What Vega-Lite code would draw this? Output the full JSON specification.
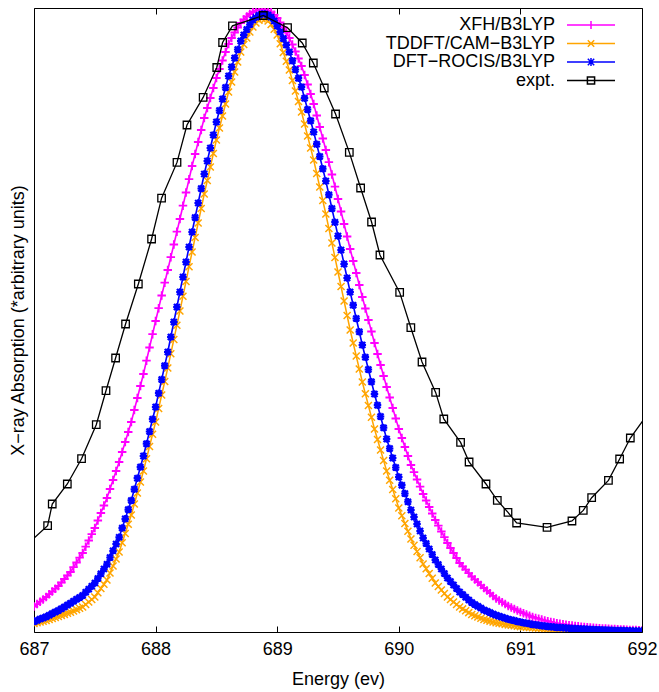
{
"$schema":"https://vega.github.io/schema/vega-lite/v6.json",
"width":608,"height":624,
"autosize":{"type":"none"},
"padding":{"left":34,"top":8,"right":17,"bottom":60},
"background":"white",
"config":{"view":{"stroke":"black","strokeWidth":1},"font":"Liberation Sans","axis":{"grid":false}},
"datasets":{
"xfh":[{"x":687,"y":0.255},{"x":687.025,"y":0.279},{"x":687.05,"y":0.303},{"x":687.075,"y":0.326},{"x":687.1,"y":0.35},{"x":687.125,"y":0.378},{"x":687.15,"y":0.405},{"x":687.175,"y":0.433},{"x":687.2,"y":0.46},{"x":687.225,"y":0.495},{"x":687.25,"y":0.53},{"x":687.275,"y":0.565},{"x":687.3,"y":0.6},{"x":687.325,"y":0.648},{"x":687.35,"y":0.695},{"x":687.375,"y":0.743},{"x":687.4,"y":0.79},{"x":687.425,"y":0.853},{"x":687.45,"y":0.915},{"x":687.475,"y":0.978},{"x":687.5,"y":1.04},{"x":687.525,"y":1.115},{"x":687.55,"y":1.19},{"x":687.575,"y":1.265},{"x":687.6,"y":1.34},{"x":687.625,"y":1.43},{"x":687.65,"y":1.52},{"x":687.675,"y":1.61},{"x":687.7,"y":1.7},{"x":687.725,"y":1.8},{"x":687.75,"y":1.9},{"x":687.775,"y":2.0},{"x":687.8,"y":2.1},{"x":687.825,"y":2.22},{"x":687.85,"y":2.34},{"x":687.875,"y":2.46},{"x":687.9,"y":2.58},{"x":687.925,"y":2.713},{"x":687.95,"y":2.845},{"x":687.975,"y":2.978},{"x":688,"y":3.11},{"x":688.025,"y":3.238},{"x":688.05,"y":3.365},{"x":688.075,"y":3.493},{"x":688.1,"y":3.62},{"x":688.125,"y":3.748},{"x":688.15,"y":3.875},{"x":688.175,"y":4.003},{"x":688.2,"y":4.13},{"x":688.225,"y":4.263},{"x":688.25,"y":4.395},{"x":688.275,"y":4.528},{"x":688.3,"y":4.66},{"x":688.325,"y":4.78},{"x":688.35,"y":4.9},{"x":688.375,"y":5.02},{"x":688.4,"y":5.14},{"x":688.425,"y":5.24},{"x":688.45,"y":5.34},{"x":688.475,"y":5.44},{"x":688.5,"y":5.54},{"x":688.525,"y":5.63},{"x":688.55,"y":5.715},{"x":688.575,"y":5.8},{"x":688.6,"y":5.88},{"x":688.625,"y":5.94},{"x":688.65,"y":5.995},{"x":688.675,"y":6.045},{"x":688.7,"y":6.09},{"x":688.725,"y":6.125},{"x":688.75,"y":6.155},{"x":688.775,"y":6.18},{"x":688.8,"y":6.2},{"x":688.825,"y":6.213},{"x":688.85,"y":6.222},{"x":688.875,"y":6.225},{"x":688.9,"y":6.222},{"x":688.925,"y":6.213},{"x":688.95,"y":6.198},{"x":688.975,"y":6.172},{"x":689,"y":6.14},{"x":689.025,"y":6.095},{"x":689.05,"y":6.045},{"x":689.075,"y":5.995},{"x":689.1,"y":5.94},{"x":689.125,"y":5.875},{"x":689.15,"y":5.805},{"x":689.175,"y":5.735},{"x":689.2,"y":5.66},{"x":689.225,"y":5.57},{"x":689.25,"y":5.475},{"x":689.275,"y":5.38},{"x":689.3,"y":5.28},{"x":689.325,"y":5.165},{"x":689.35,"y":5.05},{"x":689.375,"y":4.935},{"x":689.4,"y":4.82},{"x":689.425,"y":4.698},{"x":689.45,"y":4.575},{"x":689.475,"y":4.453},{"x":689.5,"y":4.33},{"x":689.525,"y":4.205},{"x":689.55,"y":4.08},{"x":689.575,"y":3.955},{"x":689.6,"y":3.83},{"x":689.625,"y":3.71},{"x":689.65,"y":3.59},{"x":689.675,"y":3.47},{"x":689.7,"y":3.35},{"x":689.725,"y":3.235},{"x":689.75,"y":3.12},{"x":689.775,"y":3.005},{"x":689.8,"y":2.89},{"x":689.825,"y":2.78},{"x":689.85,"y":2.67},{"x":689.875,"y":2.56},{"x":689.9,"y":2.45},{"x":689.925,"y":2.345},{"x":689.95,"y":2.24},{"x":689.975,"y":2.135},{"x":690,"y":2.03},{"x":690.025,"y":1.94},{"x":690.05,"y":1.85},{"x":690.075,"y":1.76},{"x":690.1,"y":1.67},{"x":690.125,"y":1.598},{"x":690.15,"y":1.525},{"x":690.175,"y":1.453},{"x":690.2,"y":1.38},{"x":690.225,"y":1.315},{"x":690.25,"y":1.25},{"x":690.275,"y":1.185},{"x":690.3,"y":1.12},{"x":690.325,"y":1.063},{"x":690.35,"y":1.005},{"x":690.375,"y":0.948},{"x":690.4,"y":0.89},{"x":690.425,"y":0.84},{"x":690.45,"y":0.79},{"x":690.475,"y":0.74},{"x":690.5,"y":0.69},{"x":690.525,"y":0.656},{"x":690.55,"y":0.623},{"x":690.575,"y":0.589},{"x":690.6,"y":0.555},{"x":690.625,"y":0.526},{"x":690.65,"y":0.498},{"x":690.675,"y":0.469},{"x":690.7,"y":0.44},{"x":690.725,"y":0.414},{"x":690.75,"y":0.388},{"x":690.775,"y":0.361},{"x":690.8,"y":0.335},{"x":690.825,"y":0.316},{"x":690.85,"y":0.298},{"x":690.875,"y":0.279},{"x":690.9,"y":0.26},{"x":690.925,"y":0.245},{"x":690.95,"y":0.23},{"x":690.975,"y":0.215},{"x":691,"y":0.2},{"x":691.025,"y":0.188},{"x":691.05,"y":0.175},{"x":691.075,"y":0.163},{"x":691.1,"y":0.15},{"x":691.125,"y":0.141},{"x":691.15,"y":0.133},{"x":691.175,"y":0.124},{"x":691.2,"y":0.115},{"x":691.225,"y":0.108},{"x":691.25,"y":0.101},{"x":691.275,"y":0.094},{"x":691.3,"y":0.087},{"x":691.325,"y":0.082},{"x":691.35,"y":0.078},{"x":691.375,"y":0.073},{"x":691.4,"y":0.068},{"x":691.425,"y":0.064},{"x":691.45,"y":0.061},{"x":691.475,"y":0.057},{"x":691.5,"y":0.053},{"x":691.525,"y":0.05},{"x":691.55,"y":0.048},{"x":691.575,"y":0.045},{"x":691.6,"y":0.042},{"x":691.625,"y":0.04},{"x":691.65,"y":0.038},{"x":691.675,"y":0.036},{"x":691.7,"y":0.034},{"x":691.725,"y":0.032},{"x":691.75,"y":0.031},{"x":691.775,"y":0.029},{"x":691.8,"y":0.027},{"x":691.825,"y":0.026},{"x":691.85,"y":0.024},{"x":691.875,"y":0.023},{"x":691.9,"y":0.021},{"x":691.925,"y":0.02},{"x":691.95,"y":0.019},{"x":691.975,"y":0.017},{"x":692,"y":0.016}],
"tddft":[{"x":687,"y":0.085},{"x":687.025,"y":0.093},{"x":687.05,"y":0.1},{"x":687.075,"y":0.108},{"x":687.1,"y":0.115},{"x":687.125,"y":0.125},{"x":687.15,"y":0.135},{"x":687.175,"y":0.145},{"x":687.2,"y":0.155},{"x":687.225,"y":0.166},{"x":687.25,"y":0.176},{"x":687.275,"y":0.187},{"x":687.3,"y":0.197},{"x":687.325,"y":0.21},{"x":687.35,"y":0.224},{"x":687.375,"y":0.237},{"x":687.4,"y":0.25},{"x":687.425,"y":0.275},{"x":687.45,"y":0.3},{"x":687.475,"y":0.325},{"x":687.5,"y":0.35},{"x":687.525,"y":0.393},{"x":687.55,"y":0.435},{"x":687.575,"y":0.478},{"x":687.6,"y":0.52},{"x":687.625,"y":0.59},{"x":687.65,"y":0.66},{"x":687.675,"y":0.73},{"x":687.7,"y":0.8},{"x":687.725,"y":0.893},{"x":687.75,"y":0.985},{"x":687.775,"y":1.078},{"x":687.8,"y":1.17},{"x":687.825,"y":1.28},{"x":687.85,"y":1.39},{"x":687.875,"y":1.5},{"x":687.9,"y":1.61},{"x":687.925,"y":1.733},{"x":687.95,"y":1.855},{"x":687.975,"y":1.978},{"x":688,"y":2.1},{"x":688.025,"y":2.235},{"x":688.05,"y":2.37},{"x":688.075,"y":2.505},{"x":688.1,"y":2.64},{"x":688.125,"y":2.783},{"x":688.15,"y":2.925},{"x":688.175,"y":3.068},{"x":688.2,"y":3.21},{"x":688.225,"y":3.358},{"x":688.25,"y":3.505},{"x":688.275,"y":3.653},{"x":688.3,"y":3.8},{"x":688.325,"y":3.945},{"x":688.35,"y":4.09},{"x":688.375,"y":4.235},{"x":688.4,"y":4.38},{"x":688.425,"y":4.515},{"x":688.45,"y":4.65},{"x":688.475,"y":4.785},{"x":688.5,"y":4.92},{"x":688.525,"y":5.04},{"x":688.55,"y":5.16},{"x":688.575,"y":5.28},{"x":688.6,"y":5.4},{"x":688.625,"y":5.5},{"x":688.65,"y":5.6},{"x":688.675,"y":5.7},{"x":688.7,"y":5.8},{"x":688.725,"y":5.875},{"x":688.75,"y":5.94},{"x":688.775,"y":6.0},{"x":688.8,"y":6.05},{"x":688.825,"y":6.09},{"x":688.85,"y":6.118},{"x":688.875,"y":6.132},{"x":688.9,"y":6.13},{"x":688.925,"y":6.11},{"x":688.95,"y":6.075},{"x":688.975,"y":6.028},{"x":689,"y":5.97},{"x":689.025,"y":5.883},{"x":689.05,"y":5.795},{"x":689.075,"y":5.708},{"x":689.1,"y":5.62},{"x":689.125,"y":5.515},{"x":689.15,"y":5.41},{"x":689.175,"y":5.305},{"x":689.2,"y":5.2},{"x":689.225,"y":5.08},{"x":689.25,"y":4.96},{"x":689.275,"y":4.84},{"x":689.3,"y":4.72},{"x":689.325,"y":4.585},{"x":689.35,"y":4.45},{"x":689.375,"y":4.315},{"x":689.4,"y":4.18},{"x":689.425,"y":4.035},{"x":689.45,"y":3.89},{"x":689.475,"y":3.745},{"x":689.5,"y":3.6},{"x":689.525,"y":3.455},{"x":689.55,"y":3.31},{"x":689.575,"y":3.165},{"x":689.6,"y":3.02},{"x":689.625,"y":2.89},{"x":689.65,"y":2.76},{"x":689.675,"y":2.63},{"x":689.7,"y":2.5},{"x":689.725,"y":2.383},{"x":689.75,"y":2.265},{"x":689.775,"y":2.148},{"x":689.8,"y":2.03},{"x":689.825,"y":1.925},{"x":689.85,"y":1.82},{"x":689.875,"y":1.715},{"x":689.9,"y":1.61},{"x":689.925,"y":1.518},{"x":689.95,"y":1.425},{"x":689.975,"y":1.333},{"x":690,"y":1.24},{"x":690.025,"y":1.163},{"x":690.05,"y":1.085},{"x":690.075,"y":1.008},{"x":690.1,"y":0.93},{"x":690.125,"y":0.868},{"x":690.15,"y":0.805},{"x":690.175,"y":0.743},{"x":690.2,"y":0.68},{"x":690.225,"y":0.633},{"x":690.25,"y":0.585},{"x":690.275,"y":0.538},{"x":690.3,"y":0.49},{"x":690.325,"y":0.455},{"x":690.35,"y":0.42},{"x":690.375,"y":0.385},{"x":690.4,"y":0.35},{"x":690.425,"y":0.325},{"x":690.45,"y":0.3},{"x":690.475,"y":0.275},{"x":690.5,"y":0.25},{"x":690.525,"y":0.231},{"x":690.55,"y":0.213},{"x":690.575,"y":0.194},{"x":690.6,"y":0.175},{"x":690.625,"y":0.163},{"x":690.65,"y":0.15},{"x":690.675,"y":0.138},{"x":690.7,"y":0.125},{"x":690.725,"y":0.117},{"x":690.75,"y":0.109},{"x":690.775,"y":0.1},{"x":690.8,"y":0.092},{"x":690.825,"y":0.087},{"x":690.85,"y":0.082},{"x":690.875,"y":0.076},{"x":690.9,"y":0.071},{"x":690.925,"y":0.067},{"x":690.95,"y":0.063},{"x":690.975,"y":0.058},{"x":691,"y":0.054},{"x":691.025,"y":0.051},{"x":691.05,"y":0.048},{"x":691.075,"y":0.045},{"x":691.1,"y":0.042},{"x":691.125,"y":0.04},{"x":691.15,"y":0.038},{"x":691.175,"y":0.035},{"x":691.2,"y":0.033},{"x":691.225,"y":0.031},{"x":691.25,"y":0.03},{"x":691.275,"y":0.028},{"x":691.3,"y":0.026},{"x":691.325,"y":0.025},{"x":691.35,"y":0.024},{"x":691.375,"y":0.022},{"x":691.4,"y":0.021},{"x":691.425,"y":0.02},{"x":691.45,"y":0.019},{"x":691.475,"y":0.017},{"x":691.5,"y":0.016},{"x":691.525,"y":0.015},{"x":691.55,"y":0.015},{"x":691.575,"y":0.014},{"x":691.6,"y":0.013},{"x":691.625,"y":0.012},{"x":691.65,"y":0.012},{"x":691.675,"y":0.011},{"x":691.7,"y":0.011},{"x":691.725,"y":0.01},{"x":691.75,"y":0.01},{"x":691.775,"y":0.01},{"x":691.8,"y":0.009},{"x":691.825,"y":0.009},{"x":691.85,"y":0.008},{"x":691.875,"y":0.008},{"x":691.9,"y":0.008},{"x":691.925,"y":0.008},{"x":691.95,"y":0.007},{"x":691.975,"y":0.007},{"x":692,"y":0.007}],
"rocis":[{"x":687,"y":0.104},{"x":687.025,"y":0.116},{"x":687.05,"y":0.129},{"x":687.075,"y":0.141},{"x":687.1,"y":0.153},{"x":687.125,"y":0.168},{"x":687.15,"y":0.184},{"x":687.175,"y":0.199},{"x":687.2,"y":0.214},{"x":687.225,"y":0.232},{"x":687.25,"y":0.251},{"x":687.275,"y":0.269},{"x":687.3,"y":0.287},{"x":687.325,"y":0.307},{"x":687.35,"y":0.327},{"x":687.375,"y":0.346},{"x":687.4,"y":0.366},{"x":687.425,"y":0.397},{"x":687.45,"y":0.428},{"x":687.475,"y":0.458},{"x":687.5,"y":0.489},{"x":687.525,"y":0.536},{"x":687.55,"y":0.583},{"x":687.575,"y":0.63},{"x":687.6,"y":0.677},{"x":687.625,"y":0.745},{"x":687.65,"y":0.812},{"x":687.675,"y":0.88},{"x":687.7,"y":0.947},{"x":687.725,"y":1.039},{"x":687.75,"y":1.132},{"x":687.775,"y":1.224},{"x":687.8,"y":1.316},{"x":687.825,"y":1.427},{"x":687.85,"y":1.538},{"x":687.875,"y":1.649},{"x":687.9,"y":1.76},{"x":687.925,"y":1.883},{"x":687.95,"y":2.005},{"x":687.975,"y":2.128},{"x":688,"y":2.25},{"x":688.025,"y":2.388},{"x":688.05,"y":2.525},{"x":688.075,"y":2.663},{"x":688.1,"y":2.8},{"x":688.125,"y":2.95},{"x":688.15,"y":3.1},{"x":688.175,"y":3.25},{"x":688.2,"y":3.4},{"x":688.225,"y":3.55},{"x":688.25,"y":3.7},{"x":688.275,"y":3.85},{"x":688.3,"y":4.0},{"x":688.325,"y":4.145},{"x":688.35,"y":4.29},{"x":688.375,"y":4.435},{"x":688.4,"y":4.58},{"x":688.425,"y":4.71},{"x":688.45,"y":4.84},{"x":688.475,"y":4.97},{"x":688.5,"y":5.1},{"x":688.525,"y":5.215},{"x":688.55,"y":5.33},{"x":688.575,"y":5.445},{"x":688.6,"y":5.56},{"x":688.625,"y":5.65},{"x":688.65,"y":5.74},{"x":688.675,"y":5.825},{"x":688.7,"y":5.91},{"x":688.725,"y":5.97},{"x":688.75,"y":6.025},{"x":688.775,"y":6.075},{"x":688.8,"y":6.12},{"x":688.825,"y":6.148},{"x":688.85,"y":6.168},{"x":688.875,"y":6.18},{"x":688.9,"y":6.18},{"x":688.925,"y":6.17},{"x":688.95,"y":6.148},{"x":688.975,"y":6.11},{"x":689,"y":6.06},{"x":689.025,"y":6.0},{"x":689.05,"y":5.935},{"x":689.075,"y":5.87},{"x":689.1,"y":5.8},{"x":689.125,"y":5.713},{"x":689.15,"y":5.625},{"x":689.175,"y":5.538},{"x":689.2,"y":5.45},{"x":689.225,"y":5.338},{"x":689.25,"y":5.225},{"x":689.275,"y":5.113},{"x":689.3,"y":5.0},{"x":689.325,"y":4.878},{"x":689.35,"y":4.755},{"x":689.375,"y":4.633},{"x":689.4,"y":4.51},{"x":689.425,"y":4.373},{"x":689.45,"y":4.235},{"x":689.475,"y":4.098},{"x":689.5,"y":3.96},{"x":689.525,"y":3.82},{"x":689.55,"y":3.68},{"x":689.575,"y":3.54},{"x":689.6,"y":3.4},{"x":689.625,"y":3.268},{"x":689.65,"y":3.135},{"x":689.675,"y":3.003},{"x":689.7,"y":2.87},{"x":689.725,"y":2.748},{"x":689.75,"y":2.625},{"x":689.775,"y":2.503},{"x":689.8,"y":2.38},{"x":689.825,"y":2.268},{"x":689.85,"y":2.155},{"x":689.875,"y":2.043},{"x":689.9,"y":1.93},{"x":689.925,"y":1.835},{"x":689.95,"y":1.74},{"x":689.975,"y":1.645},{"x":690,"y":1.55},{"x":690.025,"y":1.468},{"x":690.05,"y":1.385},{"x":690.075,"y":1.303},{"x":690.1,"y":1.22},{"x":690.125,"y":1.15},{"x":690.15,"y":1.08},{"x":690.175,"y":1.01},{"x":690.2,"y":0.94},{"x":690.225,"y":0.885},{"x":690.25,"y":0.83},{"x":690.275,"y":0.775},{"x":690.3,"y":0.72},{"x":690.325,"y":0.675},{"x":690.35,"y":0.63},{"x":690.375,"y":0.585},{"x":690.4,"y":0.54},{"x":690.425,"y":0.505},{"x":690.45,"y":0.47},{"x":690.475,"y":0.435},{"x":690.5,"y":0.4},{"x":690.525,"y":0.374},{"x":690.55,"y":0.348},{"x":690.575,"y":0.321},{"x":690.6,"y":0.295},{"x":690.625,"y":0.276},{"x":690.65,"y":0.258},{"x":690.675,"y":0.239},{"x":690.7,"y":0.22},{"x":690.725,"y":0.207},{"x":690.75,"y":0.194},{"x":690.775,"y":0.18},{"x":690.8,"y":0.167},{"x":690.825,"y":0.157},{"x":690.85,"y":0.148},{"x":690.875,"y":0.138},{"x":690.9,"y":0.128},{"x":690.925,"y":0.121},{"x":690.95,"y":0.114},{"x":690.975,"y":0.106},{"x":691,"y":0.099},{"x":691.025,"y":0.093},{"x":691.05,"y":0.088},{"x":691.075,"y":0.082},{"x":691.1,"y":0.076},{"x":691.125,"y":0.072},{"x":691.15,"y":0.068},{"x":691.175,"y":0.063},{"x":691.2,"y":0.059},{"x":691.225,"y":0.056},{"x":691.25,"y":0.053},{"x":691.275,"y":0.049},{"x":691.3,"y":0.046},{"x":691.325,"y":0.044},{"x":691.35,"y":0.042},{"x":691.375,"y":0.039},{"x":691.4,"y":0.037},{"x":691.425,"y":0.035},{"x":691.45,"y":0.034},{"x":691.475,"y":0.032},{"x":691.5,"y":0.03},{"x":691.525,"y":0.029},{"x":691.55,"y":0.027},{"x":691.575,"y":0.026},{"x":691.6,"y":0.024},{"x":691.625,"y":0.023},{"x":691.65,"y":0.022},{"x":691.675,"y":0.02},{"x":691.7,"y":0.019},{"x":691.725,"y":0.018},{"x":691.75,"y":0.017},{"x":691.775,"y":0.016},{"x":691.8,"y":0.015},{"x":691.825,"y":0.014},{"x":691.85,"y":0.014},{"x":691.875,"y":0.013},{"x":691.9,"y":0.012},{"x":691.925,"y":0.011},{"x":691.95,"y":0.011},{"x":691.975,"y":0.01},{"x":692,"y":0.009}],
"expt":[{"x":686.92,"y":0.85},{"x":687.112,"y":1.063},{"x":687.15,"y":1.28},{"x":687.274,"y":1.48},{"x":687.391,"y":1.733},{"x":687.512,"y":2.073},{"x":687.592,"y":2.413},{"x":687.671,"y":2.74},{"x":687.753,"y":3.08},{"x":687.858,"y":3.48},{"x":687.967,"y":3.93},{"x":688.049,"y":4.338},{"x":688.176,"y":4.696},{"x":688.258,"y":5.07},{"x":688.391,"y":5.346},{"x":688.503,"y":5.645},{"x":688.551,"y":5.895},{"x":688.632,"y":6.061},{"x":688.886,"y":6.165},{"x":689.085,"y":6.043},{"x":689.206,"y":5.89},{"x":689.297,"y":5.69},{"x":689.387,"y":5.44},{"x":689.48,"y":5.18},{"x":689.593,"y":4.796},{"x":689.686,"y":4.44},{"x":689.776,"y":4.1},{"x":689.845,"y":3.77},{"x":690.007,"y":3.396},{"x":690.099,"y":3.043},{"x":690.191,"y":2.7},{"x":690.303,"y":2.396},{"x":690.37,"y":2.13},{"x":690.508,"y":1.896},{"x":690.578,"y":1.7},{"x":690.717,"y":1.48},{"x":690.81,"y":1.316},{"x":690.898,"y":1.196},{"x":690.969,"y":1.09},{"x":691.219,"y":1.046},{"x":691.424,"y":1.11},{"x":691.517,"y":1.216},{"x":691.586,"y":1.343},{"x":691.724,"y":1.516},{"x":691.816,"y":1.73},{"x":691.904,"y":1.94},{"x":692.07,"y":2.22}]
},
"layer":[
{"data":{"name":"xfh"},"mark":{"type":"line","strokeWidth":1.6,"clip":true},
 "encoding":{
  "x":{"field":"x","type":"quantitative","scale":{"domain":[687,692],"nice":false,"zero":false},
   "axis":{"orient":"bottom","values":[687,688,689,690,691,692],"format":"d","tickSize":-6,"tickColor":"black","tickWidth":1,"domain":false,"labelFlush":false,"labelOverlap":false,"labelFontSize":18,"labelColor":"black","labelPadding":14,"title":"Energy (ev)","titleFontSize":18,"titleFontWeight":"normal","titleColor":"black","titlePadding":12}},
  "y":{"field":"y","type":"quantitative","scale":{"domain":[0,6.24],"nice":false,"zero":false},
   "axis":{"orient":"left","title":"X−ray Absorption (*arbitrary units)","labels":false,"ticks":false,"domain":false,"grid":false,"titleFontSize":18,"titleFontWeight":"normal","titleColor":"black","titlePadding":7}},
  "color":{"datum":"XFH/B3LYP","type":"nominal",
   "scale":{"domain":["XFH/B3LYP","TDDFT/CAM−B3LYP","DFT−ROCIS/B3LYP","expt."],"range":["#ff00ff","#ffa500","#0000ff","#000000"]},
   "legend":{"orient":"none","legendX":548,"legendY":8,"title":null,"labelFontSize":18,"labelColor":"black","labelLimit":400,"labelAlign":"right","labelOffset":-45,"symbolSize":64,"symbolStrokeWidth":1.5,"rowPadding":0.5,"padding":0,
    "encode":{"symbols":{"update":{"shape":{"signal":"datum.index === 0 ? 'M-6,0H6M0,-1V1' : datum.index === 1 ? 'M-6,0H6M-0.8,-0.8L0.8,0.8M-0.8,0.8L0.8,-0.8' : datum.index === 2 ? 'M-6,0H6M0,-1V1M-0.8,-0.8L0.8,0.8M-0.8,0.8L0.8,-0.8' : 'M-6,0H6M-0.9,-0.9H0.9V0.9H-0.9Z'"},"fill":{"value":"transparent"},"strokeWidth":{"value":1.5},"opacity":{"value":1}}}}}}
 }},
{"data":{"name":"xfh"},"mark":{"type":"point","shape":"M-1,0H1M0,-1V1","filled":false,"opacity":1,"strokeWidth":1.8,"size":72,"clip":true},
 "encoding":{"x":{"field":"x","type":"quantitative","axis":null},"y":{"field":"y","type":"quantitative","axis":null},
  "color":{"datum":"XFH/B3LYP","type":"nominal"}}},
{"data":{"name":"tddft"},"mark":{"type":"line","strokeWidth":1.5,"clip":true},
 "encoding":{"x":{"field":"x","type":"quantitative","axis":null},"y":{"field":"y","type":"quantitative","axis":null},"color":{"datum":"TDDFT/CAM−B3LYP","type":"nominal"}}},
{"data":{"name":"tddft"},"mark":{"type":"point","shape":"M-1,-1L1,1M-1,1L1,-1","filled":false,"opacity":1,"strokeWidth":1.5,"size":49,"clip":true},
 "encoding":{"x":{"field":"x","type":"quantitative","axis":null},"y":{"field":"y","type":"quantitative","axis":null},
  "color":{"datum":"TDDFT/CAM−B3LYP","type":"nominal"}}},
{"data":{"name":"rocis"},"mark":{"type":"line","strokeWidth":1.6,"clip":true},
 "encoding":{"x":{"field":"x","type":"quantitative","axis":null},"y":{"field":"y","type":"quantitative","axis":null},"color":{"datum":"DFT−ROCIS/B3LYP","type":"nominal"}}},
{"data":{"name":"rocis"},"mark":{"type":"point","shape":"M-1,0H1M0,-1V1M-0.8,-0.8L0.8,0.8M-0.8,0.8L0.8,-0.8","filled":false,"opacity":1,"strokeWidth":2.2,"size":56,"clip":true},
 "encoding":{"x":{"field":"x","type":"quantitative","axis":null},"y":{"field":"y","type":"quantitative","axis":null},
  "color":{"datum":"DFT−ROCIS/B3LYP","type":"nominal"}}},
{"data":{"name":"expt"},"mark":{"type":"line","strokeWidth":1.3,"clip":true},
 "encoding":{"x":{"field":"x","type":"quantitative","axis":null},"y":{"field":"y","type":"quantitative","axis":null},"color":{"datum":"expt.","type":"nominal"}}},
{"data":{"name":"expt"},"mark":{"type":"point","shape":"square","filled":false,"opacity":1,"strokeWidth":1.3,"size":56,"clip":true},
 "encoding":{"x":{"field":"x","type":"quantitative",
   "axis":{"orient":"top","values":[687,688,689,690,691,692],"tickSize":-6,"tickColor":"black","tickWidth":1,"labels":false,"domain":false,"title":null}},
  "y":{"field":"y","type":"quantitative","axis":null},
  "color":{"datum":"expt.","type":"nominal"}}}
],
"resolve":{"axis":{"x":"independent","y":"independent"}}
}
